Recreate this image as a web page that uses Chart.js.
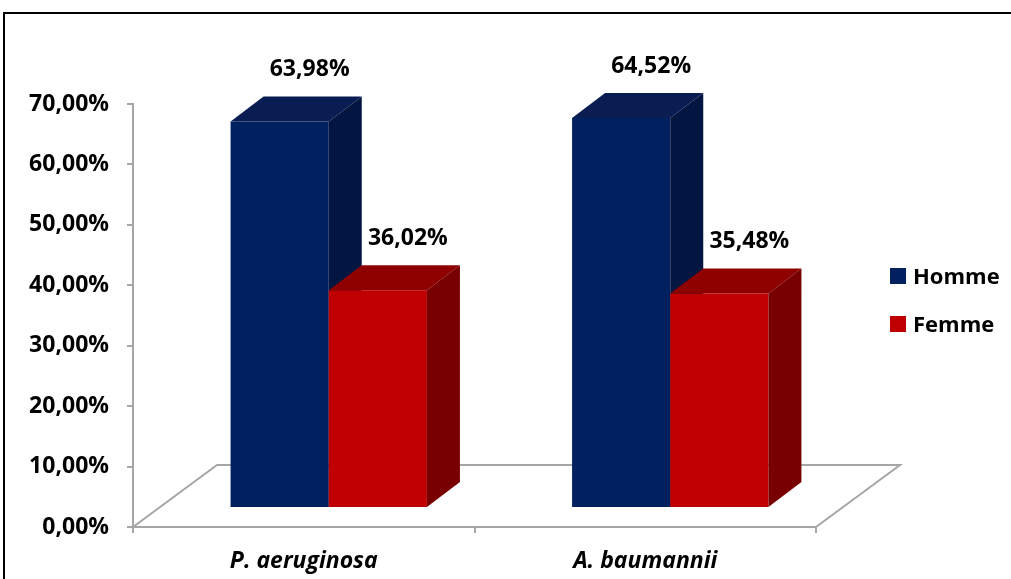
<!DOCTYPE html>
<html>
<head>
<meta charset="utf-8">
<script src="https://cdn.jsdelivr.net/npm/chart.js@4.4.0/dist/chart.umd.min.js"></script>
<style>
  html, body { margin: 0; padding: 0; background: #ffffff; }
  canvas { display: block; }
</style>
</head>
<body>
<canvas id="chart" width="1011" height="579"></canvas>
<script>
// Categories and series (percent)
const categories = ['P. aeruginosa', 'A. baumannii'];
const hommeValues = [63.98, 64.52];
const femmeValues = [36.02, 35.48];
const yTickValues = [0, 10, 20, 30, 40, 50, 60, 70];

// Perspective settings for the pseudo-3D look
const FLOOR_DEPTH = { dx: 84, dy: -62 };   // floor receding toward the back
const BAR_SHIFT = { dx: 25, dy: -19 };     // columns stand part-way into the floor
const BAR_DEPTH = { dx: 33, dy: -25 };     // thickness of each column

const FONT = '"Open Sans", "Liberation Sans", sans-serif';
const AXIS_GREY = '#a6a6a6';

const pct = v => v.toFixed(2).replace('.', ',') + '%';

function face(ctx, pts, color) {
  ctx.beginPath();
  ctx.moveTo(pts[0][0], pts[0][1]);
  for (let i = 1; i < pts.length; i++) ctx.lineTo(pts[i][0], pts[i][1]);
  ctx.closePath();
  ctx.fillStyle = color;
  ctx.fill();
}

const columns3d = {
  id: 'columns3d',
  beforeDraw(chart) {
    const ctx = chart.ctx;
    ctx.save();
    ctx.fillStyle = '#ffffff';
    ctx.fillRect(0, 0, chart.width, chart.height);
    ctx.restore();
  },
  // Columns are painted left to right so each one's side face is
  // covered by its right-hand neighbour's front face.
  beforeDatasetsDraw(chart) {
    const { ctx, chartArea: a } = chart;
    ctx.save();
    ctx.strokeStyle = AXIS_GREY;
    ctx.lineWidth = 2;
    ctx.beginPath();
    ctx.moveTo(a.left, a.bottom);
    ctx.lineTo(a.left + FLOOR_DEPTH.dx, a.bottom + FLOOR_DEPTH.dy);
    ctx.lineTo(a.right + FLOOR_DEPTH.dx, a.bottom + FLOOR_DEPTH.dy);
    ctx.lineTo(a.right, a.bottom);
    ctx.stroke();
    ctx.restore();

    ctx.save();
    ctx.translate(BAR_SHIFT.dx, BAR_SHIFT.dy);
    chart.data.datasets.forEach((ds, i) => {
      const meta = chart.getDatasetMeta(i);
      meta.controller.draw();
      meta.data.forEach(bar => {
        const { x, y, base, width } = bar.getProps(['x', 'y', 'base', 'width'], true);
        const x0 = x - width / 2, x1 = x + width / 2;
        const dx = BAR_DEPTH.dx, dy = BAR_DEPTH.dy;
        face(ctx, [[x0, y], [x1, y], [x1 + dx, y + dy], [x0 + dx, y + dy]], ds.topColor);
        face(ctx, [[x1, y], [x1 + dx, y + dy], [x1 + dx, base + dy], [x1, base]], ds.sideColor);
      });
    });

    // value labels above each column
    ctx.font = 'bold 23px ' + FONT;
    ctx.fillStyle = '#000000';
    ctx.textAlign = 'center';
    ctx.textBaseline = 'middle';
    chart.data.datasets.forEach((ds, i) => {
      chart.getDatasetMeta(i).data.forEach((bar, j) => {
        const { x, y } = bar.getProps(['x', 'y'], true);
        ctx.fillText(pct(ds.data[j]), x + 30, y - 52);
      });
    });
    ctx.restore();
    return false;
  },
  afterDraw(chart) {
    const ctx = chart.ctx;
    ctx.save();
    // outer frame (top and left edges)
    ctx.strokeStyle = '#000000';
    ctx.lineWidth = 2;
    ctx.beginPath();
    ctx.moveTo(4, chart.height + 2);
    ctx.lineTo(4, 13);
    ctx.lineTo(chart.width + 2, 13);
    ctx.stroke();
    // legend
    const lx = 890, ly = [268, 316];
    ctx.font = 'bold 22px ' + FONT;
    ctx.textAlign = 'left';
    ctx.textBaseline = 'alphabetic';
    chart.data.datasets.forEach((ds, i) => {
      ctx.fillStyle = ds.backgroundColor;
      ctx.fillRect(lx, ly[i], 16, 16);
      ctx.fillStyle = '#000000';
      ctx.fillText(ds.label, lx + 23, ly[i] + 16);
    });
    ctx.restore();
  }
};

new Chart(document.getElementById('chart'), {
  type: 'bar',
  data: {
    labels: categories,
    datasets: [
      {
        label: 'Homme',
        data: hommeValues,
        backgroundColor: '#002060',
        topColor: '#091d52',
        sideColor: '#021641'
      },
      {
        label: 'Femme',
        data: femmeValues,
        backgroundColor: '#c00000',
        topColor: '#8f0000',
        sideColor: '#780000'
      }
    ]
  },
  options: {
    responsive: false,
    animation: false,
    devicePixelRatio: 1,
    layout: { padding: { top: 104, right: 195, left: 0, bottom: 0 } },
    datasets: { bar: { categoryPercentage: 0.575, barPercentage: 1.0 } },
    plugins: {
      legend: { display: false },
      tooltip: { enabled: false }
    },
    scales: {
      x: {
        offset: true,
        grid: {
          offset: true,
          drawOnChartArea: false,
          drawTicks: true,
          tickLength: 6,
          color: AXIS_GREY,
          lineWidth: 2
        },
        border: { display: true, color: AXIS_GREY, width: 2 },
        ticks: {
          color: '#000000',
          padding: 15,
          font: { family: FONT, size: 23, weight: 'bold', style: 'italic' }
        },
        afterFit(scale) { scale.height = 52; }
      },
      y: {
        min: 0,
        max: 70,
        afterBuildTicks(scale) { scale.ticks = yTickValues.map(v => ({ value: v })); },
        grid: {
          drawOnChartArea: false,
          drawTicks: true,
          tickLength: 6,
          color: AXIS_GREY,
          lineWidth: 2
        },
        border: { display: true, color: AXIS_GREY, width: 2 },
        ticks: {
          color: '#000000',
          padding: 18,
          font: { family: FONT, size: 23, weight: 'bold' },
          callback: v => pct(v)
        },
        afterFit(scale) { scale.width = 133; }
      }
    }
  },
  plugins: [columns3d]
});
</script>
</body>
</html>
